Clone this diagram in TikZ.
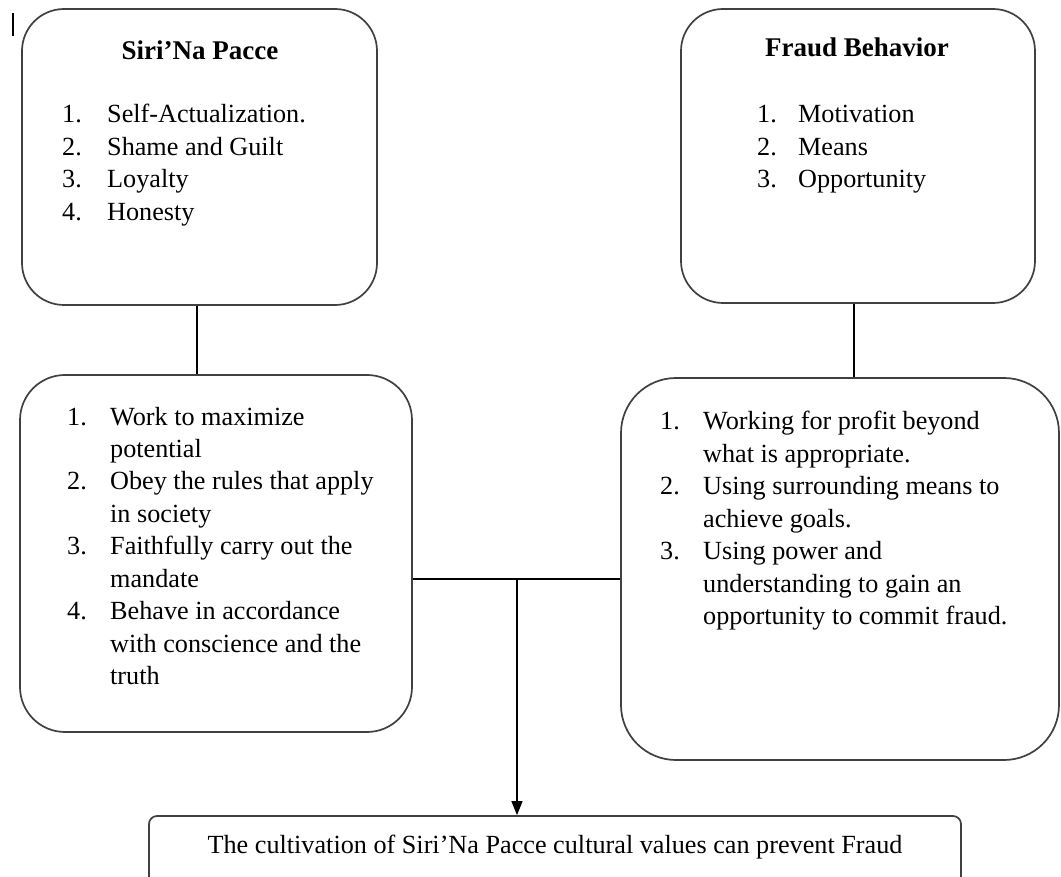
\documentclass[tikz,border=0pt]{standalone}
\usepackage{fontspec}
\setmainfont{Liberation Serif}
\usetikzlibrary{arrows.meta}
\begin{document}
\begin{tikzpicture}[x=1pt,y=-1pt,
  box/.style={draw=black!75,line width=1.7pt,inner sep=0pt},
  conn/.style={draw=black,line width=1.3pt},
  txt/.style={anchor=base west,inner sep=0pt,font=\fontsize{26.2}{32.5}\selectfont},
  ttl/.style={anchor=base,inner sep=0pt,font=\fontsize{27}{32.5}\selectfont\bfseries},
]
\useasboundingbox (0,0) rectangle (1061,877);
\fill[white] (0,0) rectangle (1061,877);
% boxes
\node[box,rounded corners=42pt,minimum width=355pt,minimum height=296pt] (sp) at (199.5,157) {};
\node[box,rounded corners=42pt,minimum width=354pt,minimum height=294pt] (fb) at (858,156) {};
\node[box,rounded corners=45pt,minimum width=392pt,minimum height=357pt] (b3) at (216,553.5) {};
\node[box,rounded corners=55pt,minimum width=438pt,minimum height=382pt] (b4) at (840,569) {};
\node[box,rounded corners=8pt,minimum width=812pt,minimum height=79pt] (b5) at (555,855.5) {};
% cursor mark
\draw[line width=1.2pt] (13,13) -- (13,36);
% texts
\node[ttl] (t1) at (200,60) {Siri’Na Pacce};
\node[txt] (l1) at (62,123) {\begin{tabular}[t]{@{}l@{}}
\makebox[45pt][l]{1.}Self-Actualization.\\
\makebox[45pt][l]{2.}Shame and Guilt\\
\makebox[45pt][l]{3.}Loyalty\\
\makebox[45pt][l]{4.}Honesty
\end{tabular}};
\node[ttl] (t2) at (857,57) {Fraud Behavior};
\node[txt] (l2) at (757,123) {\begin{tabular}[t]{@{}l@{}}
\makebox[41pt][l]{1.}Motivation\\
\makebox[41pt][l]{2.}Means\\
\makebox[41pt][l]{3.}Opportunity
\end{tabular}};
\node[txt] (l3) at (67,425) {\begin{tabular}[t]{@{}l@{}}
\makebox[43pt][l]{1.}Work to maximize\\
\hspace*{43pt}potential\\
\makebox[43pt][l]{2.}Obey the rules that apply\\
\hspace*{43pt}in society\\
\makebox[43pt][l]{3.}Faithfully carry out the\\
\hspace*{43pt}mandate\\
\makebox[43pt][l]{4.}Behave in accordance\\
\hspace*{43pt}with conscience and the\\
\hspace*{43pt}truth
\end{tabular}};
\node[txt] (l4) at (660,430) {\begin{tabular}[t]{@{}l@{}}
\makebox[43pt][l]{1.}Working for profit beyond\\
\hspace*{43pt}what is appropriate.\\
\makebox[43pt][l]{2.}Using surrounding means to\\
\hspace*{43pt}achieve goals.\\
\makebox[43pt][l]{3.}Using power and\\
\hspace*{43pt}understanding to gain an\\
\hspace*{43pt}opportunity to commit fraud.
\end{tabular}};
\node[anchor=base,inner sep=0pt,font=\fontsize{26.2}{32.5}\selectfont] (t5) at (555,853) {The cultivation of Siri’Na Pacce cultural values can prevent Fraud};
% connectors
\coordinate (c1) at (197,0);
\coordinate (c2) at (854,0);
\coordinate (j) at (517,579);
\draw[conn] (sp.south -| c1) -- (b3.north -| c1);
\draw[conn] (fb.south -| c2) -- (b4.north -| c2);
\draw[conn] (b3.east |- j) -- (b4.west |- j);
\draw[conn,-{Triangle[length=14pt,width=11pt]}] (j) -- (j |- b5.north);
\end{tikzpicture}
\end{document}
